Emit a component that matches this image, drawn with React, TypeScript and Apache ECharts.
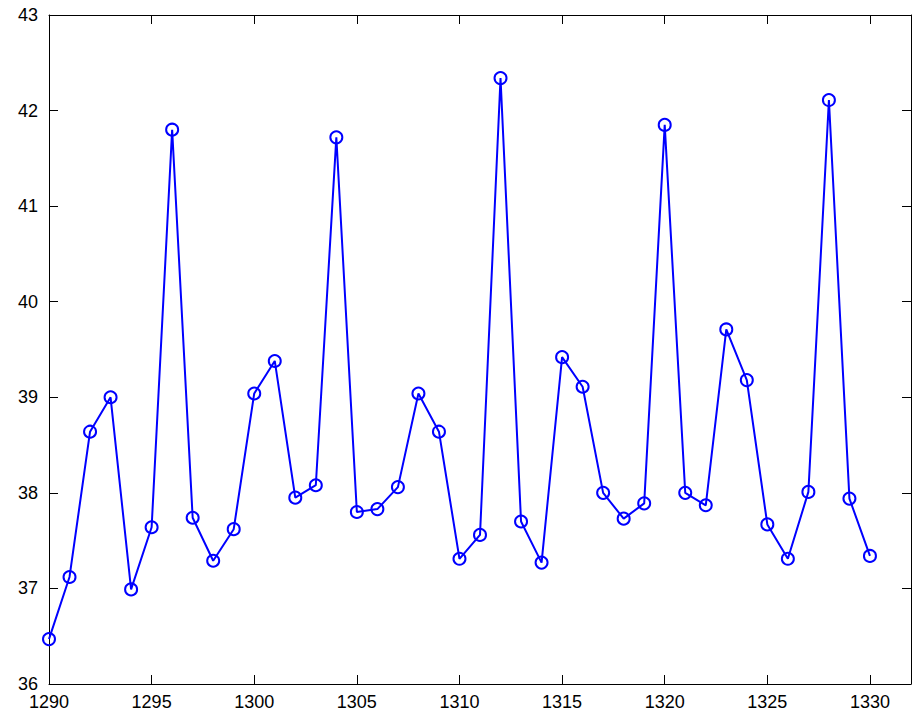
import React, { useEffect, useRef } from "react";
import * as echarts from "echarts";

const years = [
  1290, 1291, 1292, 1293, 1294, 1295, 1296, 1297, 1298, 1299,
  1300, 1301, 1302, 1303, 1304, 1305, 1306, 1307, 1308, 1309,
  1310, 1311, 1312, 1313, 1314, 1315, 1316, 1317, 1318, 1319,
  1320, 1321, 1322, 1323, 1324, 1325, 1326, 1327, 1328, 1329, 1330,
];
const values = [
  36.47, 37.12, 38.64, 39.0, 36.99, 37.64, 41.8, 37.74, 37.29, 37.62,
  39.04, 39.38, 37.95, 38.08, 41.72, 37.8, 37.83, 38.06, 39.04, 38.64,
  37.31, 37.56, 42.34, 37.7, 37.27, 39.42, 39.11, 38.0, 37.73, 37.89,
  41.85, 38.0, 37.87, 39.71, 39.18, 37.67, 37.31, 38.01, 42.11, 37.94, 37.34,
];
const xMin = 1290;
const xMax = 1332;
const yMin = 36;
const yMax = 43;

export default function App() {
  const ref = useRef<HTMLDivElement>(null);
  useEffect(() => {
    if (!ref.current) return;
    const chart = echarts.init(ref.current, undefined, { renderer: "svg" });
    const font = { fontFamily: "Liberation Sans", fontSize: 18, color: "#000" };
    const axisCommon = {
      axisLine: { show: true, onZero: false, lineStyle: { color: "#000", width: 1 } },
      axisTick: { show: true, inside: true, length: 9, lineStyle: { color: "#000", width: 1 } },
      splitLine: { show: false },
    };
    chart.setOption({
      animation: false,
      backgroundColor: "#fff",
      grid: { left: 49, right: 3, top: 15, bottom: 30, containLabel: false },
      xAxis: [
        {
          type: "value",
          min: xMin,
          max: xMax,
          interval: 5,
          position: "bottom",
          ...axisCommon,
          axisLabel: {
            ...font,
            margin: 9,
            formatter: (v: number) => (v % 5 === 0 ? String(v) : ""),
          },
        },
        {
          type: "value",
          min: xMin,
          max: xMax,
          interval: 5,
          position: "top",
          ...axisCommon,
          axisLabel: { show: false },
        },
      ],
      yAxis: [
        {
          type: "value",
          min: yMin,
          max: yMax,
          interval: 1,
          position: "left",
          ...axisCommon,
          axisLabel: { ...font, margin: 11 },
        },
        {
          type: "value",
          min: yMin,
          max: yMax,
          interval: 1,
          position: "right",
          ...axisCommon,
          axisLabel: { show: false },
        },
      ],
      series: [
        {
          type: "line",
          xAxisIndex: 0,
          yAxisIndex: 0,
          data: years.map((y, i) => [y, values[i]]),
          symbol: "circle",
          symbolSize: 12,
          showAllSymbol: true,
          lineStyle: { color: "#0000ff", width: 2 },
          itemStyle: { color: "rgba(0,0,0,0)", borderColor: "#0000ff", borderWidth: 2 },
        },
      ],
    });
    return () => chart.dispose();
  }, []);
  return (
    <div
      ref={ref}
      style={{ position: "fixed", left: 0, top: 0, width: 914, height: 714 }}
    />
  );
}
